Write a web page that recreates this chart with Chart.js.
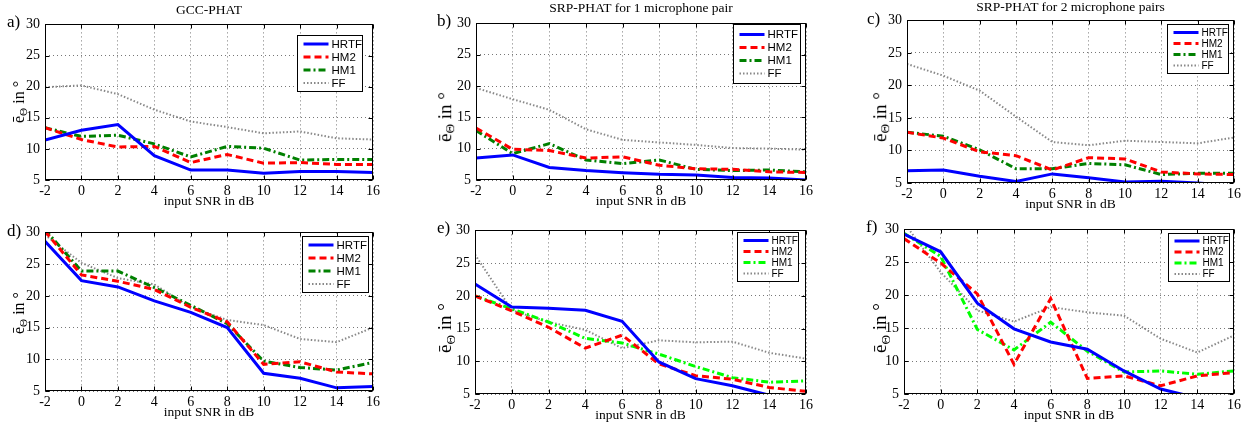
<!DOCTYPE html>
<html lang="en">
<head>
  <meta charset="UTF-8" />
  <title>Localization error vs. input SNR</title>
  <script src="https://cdn.jsdelivr.net/npm/chart.js"></script>
  <style>
    body {
      margin: 0;
      background: #fff;
      width: 1254px;
      height: 427px;
      position: relative;
      overflow: hidden;
      font-family: 'Liberation Serif', 'Times New Roman', serif;
      color: #000;
    }
    canvas { position: absolute; }
    .txt { position: absolute; white-space: nowrap; line-height: 1; font-size: 13.5px; }
    .mid { transform: translate(-50%, -50%); }
    .letter { font-size: 17px; transform: translateY(-50%); }
    .ylab { transform: translate(-50%, -50%) rotate(-90deg); }
    .ylab sub { font-size: 0.7em; vertical-align: -0.25em; }
  </style>
</head>
<body>
  <script>
    // x values (input SNR in dB)
    const snr = [-2, 0, 2, 4, 6, 8, 10, 12, 14, 16];
    const seriesNames = ['HRTF', 'HM2', 'HM1', 'FF'];

    // a) GCC-PHAT
    const hrtfA = [11.4, 13.0, 13.9, 8.9, 6.6, 6.6, 6.1, 6.35, 6.35, 6.2];
    const hm2A  = [13.4, 11.5, 10.3, 10.4, 7.8, 9.1, 7.7, 7.8, 7.5, 7.5];
    const hm1A  = [13.4, 12.0, 12.2, 10.8, 8.7, 10.4, 10.1, 8.2, 8.3, 8.3];
    const ffA   = [19.9, 20.2, 18.8, 16.3, 14.4, 13.5, 12.5, 12.8, 11.7, 11.5];

    // b) SRP-PHAT for 1 microphone pair
    const hrtfB = [8.5, 9.0, 7.0, 6.5, 6.15, 5.9, 5.8, 5.4, 5.3, 5.0];
    const hm2B  = [13.3, 9.9, 9.7, 8.5, 8.7, 7.35, 6.8, 6.7, 6.3, 6.2];
    const hm1B  = [12.9, 9.2, 10.8, 8.2, 7.6, 8.2, 6.7, 6.5, 6.6, 6.3];
    const ffB   = [19.7, 17.9, 16.2, 13.1, 11.4, 11.0, 10.6, 10.1, 10.0, 9.85];

    // c) SRP-PHAT for 2 microphone pairs
    const hrtfC = [6.9, 7.0, 6.05, 5.25, 6.4, 5.8, 5.15, 5.25, 5.0, 4.6];
    const hm2C  = [12.8, 11.9, 9.8, 9.2, 7.0, 8.9, 8.7, 6.7, 6.4, 6.3];
    const hm1C  = [12.8, 12.2, 10.1, 7.2, 7.2, 8.0, 7.8, 6.3, 6.5, 6.5];
    const ffC   = [23.3, 21.5, 19.2, 15.2, 11.3, 10.8, 11.5, 11.3, 11.1, 12.0];

    // d)
    const hrtfD = [28.6, 22.4, 21.4, 19.2, 17.4, 15.0, 7.8, 7.0, 5.5, 5.7];
    const hm2D  = [30.2, 23.3, 22.3, 21.0, 18.2, 15.9, 9.2, 9.6, 8.0, 7.7];
    const hm1D  = [30.4, 23.9, 23.9, 21.3, 18.5, 15.6, 9.7, 8.7, 8.3, 9.5];
    const ffD   = [29.6, 25.2, 22.8, 21.8, 18.2, 16.2, 15.4, 13.2, 12.7, 15.0];

    // e)
    const hrtfE = [21.8, 18.3, 18.1, 17.8, 16.1, 9.9, 7.35, 6.25, 4.8, 3.8];
    const hm2E  = [20.0, 17.7, 15.2, 12.0, 14.0, 9.6, 7.8, 7.25, 6.0, 5.4];
    const hm1E  = [20.0, 18.0, 16.0, 13.5, 12.8, 11.1, 9.2, 7.5, 6.8, 7.0];
    const ffE   = [26.3, 17.8, 16.0, 14.8, 12.0, 13.2, 12.9, 13.0, 11.3, 10.4];

    // f)
    const hrtfF = [29.3, 26.6, 18.8, 14.9, 12.9, 11.8, 8.5, 5.75, 4.4, 3.4];
    const hm2F  = [28.6, 24.9, 20.2, 9.5, 19.5, 7.35, 7.75, 6.25, 7.75, 8.25];
    const hm1F  = [29.4, 25.9, 14.8, 11.7, 15.9, 11.5, 8.35, 8.5, 8.0, 8.5];
    const ffF   = [31.0, 23.5, 17.7, 16.0, 18.2, 17.4, 16.9, 13.4, 11.3, 13.9];

    const yTicks = [5, 10, 15, 20, 25, 30];

    // layout of each panel: plot box [left, top, right, bottom] in page pixels
    const panels = [
      { tag: 'a)', title: 'GCC-PHAT', data: [hrtfA, hm2A, hm1A, ffA], plot: [45, 21, 373, 180],
        green: '#008000', titleY: 10, letter: [7, 21], ylab: [20, 102, 16],
        leg: { right: 11, top: 10.7, w: 65, h: 56, font: 11.5, sp: 13 } },
      { tag: 'b)', title: 'SRP-PHAT for 1 microphone pair', data: [hrtfB, hm2B, hm1B, ffB], plot: [476, 20, 806, 180],
        green: '#008000', titleY: 8, letter: [437, 20], ylab: [446, 117, 19],
        leg: { right: 6, top: 1, w: 67, h: 59, font: 11.5, sp: 13 } },
      { tag: 'c)', title: 'SRP-PHAT for 2 microphone pairs', data: [hrtfC, hm2C, hm1C, ffC], plot: [907, 17, 1234, 183],
        green: '#008000', titleY: 7, letter: [867, 18], ylab: [881, 117, 19],
        leg: { right: 6, top: 4, w: 61, h: 49, font: 10, sp: 11 } },
      { tag: 'd)', title: '', data: [hrtfD, hm2D, hm1D, ffD], plot: [45, 229, 373, 391],
        green: '#008000', titleY: 0, letter: [7, 230], ylab: [20, 313, 16],
        leg: { right: 5, top: 4, w: 66, h: 56, font: 11.5, sp: 13 } },
      { tag: 'e)', title: '', data: [hrtfE, hm2E, hm1E, ffE], plot: [475, 227, 806, 394],
        green: '#00ff00', titleY: 0, letter: [437, 227], ylab: [446, 328, 19],
        leg: { right: 8, top: 2, w: 61, h: 49, font: 10, sp: 11 } },
      { tag: 'f)', title: '', data: [hrtfF, hm2F, hm1F, ffF], plot: [904, 226, 1234, 394],
        green: '#00ff00', titleY: 0, letter: [866, 226], ylab: [881, 328, 19],
        leg: { right: 5, top: 4, w: 61, h: 48, font: 10, sp: 11 } }
    ];

    const PAD_L = 40, PAD_T = 10, PAD_R = 12, PAD_B = 22;

    // box, inward ticks and legend like MATLAB
    const framePlugin = {
      id: 'frame',
      afterDraw(chart, args, opts) {
        const { ctx, chartArea: a, scales: { x, y } } = chart;
        const L = Math.round(a.left) + 0.5, T = Math.round(a.top) + 0.5;
        const R = Math.round(a.right) - 0.5, B = Math.round(a.bottom) - 0.5;
        ctx.save();
        ctx.strokeStyle = '#000';
        ctx.lineWidth = 1;
        ctx.setLineDash([]);
        ctx.strokeRect(L, T, R - L, B - T);
        ctx.beginPath();
        snr.forEach(v => {
          const px = Math.round(x.getPixelForValue(v)) + 0.5;
          ctx.moveTo(px, B); ctx.lineTo(px, B - 4);
          ctx.moveTo(px, T); ctx.lineTo(px, T + 4);
        });
        yTicks.forEach(v => {
          const py = Math.round(y.getPixelForValue(v)) + 0.5;
          ctx.moveTo(L, py); ctx.lineTo(L + 4, py);
          ctx.moveTo(R, py); ctx.lineTo(R - 4, py);
        });
        ctx.stroke();

        const lg = opts.leg;
        const lx = Math.round(a.right - lg.right - lg.w) + 0.5;
        const ly = Math.round(a.top + lg.top) + 0.5;
        ctx.fillStyle = '#fff';
        ctx.fillRect(lx, ly, lg.w, lg.h);
        ctx.strokeRect(lx, ly, lg.w, lg.h);
        ctx.font = lg.font + 'px "Liberation Sans", Arial, sans-serif';
        ctx.textBaseline = 'middle';
        const first = lg.h / 2 - 1.5 * lg.sp;
        chart.data.datasets.forEach((ds, i) => {
          const ry = ly + first + i * lg.sp;
          ctx.strokeStyle = ds.borderColor;
          ctx.lineWidth = ds.borderWidth;
          ctx.setLineDash(ds.borderDash || []);
          ctx.beginPath();
          ctx.moveTo(lx + 6, ry);
          ctx.lineTo(lx + 31, ry);
          ctx.stroke();
          ctx.fillStyle = '#000';
          ctx.fillText(ds.label, lx + 34, ry + 0.5);
        });
        ctx.restore();
      }
    };

    function addText(cls, html, x, y, size) {
      const d = document.createElement('div');
      d.className = 'txt ' + cls;
      d.innerHTML = html;
      d.style.left = x + 'px';
      d.style.top = y + 'px';
      if (size) d.style.fontSize = size + 'px';
      document.body.appendChild(d);
    }

    panels.forEach(p => {
      const [L, T, R, B] = p.plot;
      const w = R - L + PAD_L + PAD_R, h = B - T + PAD_T + PAD_B;
      const cv = document.createElement('canvas');
      cv.width = w; cv.height = h;
      cv.style.left = (L - PAD_L) + 'px';
      cv.style.top = (T - PAD_T) + 'px';
      cv.style.width = w + 'px';
      cv.style.height = h + 'px';
      document.body.appendChild(cv);

      const styles = [
        { color: '#0000ff', width: 3, dash: [] },
        { color: '#ff0000', width: 3, dash: [7, 4] },
        { color: p.green, width: 3, dash: [7, 3, 2, 3] },
        { color: '#888888', width: 2, dash: [1.5, 2] }
      ];

      new Chart(cv, {
        type: 'line',
        data: {
          datasets: p.data.map((vals, i) => ({
            label: seriesNames[i],
            data: snr.map((s, k) => ({ x: s, y: vals[k] })),
            borderColor: styles[i].color,
            borderWidth: styles[i].width,
            borderDash: styles[i].dash,
            pointRadius: 0,
            tension: 0,
            fill: false
          }))
        },
        options: {
          responsive: false,
          animation: false,
          devicePixelRatio: 1,
          layout: { padding: { left: 0, top: PAD_T, right: PAD_R, bottom: 0 } },
          plugins: { legend: { display: false }, tooltip: { enabled: false }, frame: { leg: p.leg } },
          scales: {
            x: {
              type: 'linear', min: -2, max: 16,
              afterFit: s => { s.height = PAD_B; },
              afterBuildTicks: s => { s.ticks = snr.map(v => ({ value: v })); },
              grid: { color: '#777', lineWidth: 1, drawTicks: false },
              border: { display: false, dash: [1, 3] },
              ticks: { color: '#000', padding: 3, maxRotation: 0, font: { family: 'Liberation Serif', size: 14 } }
            },
            y: {
              min: 5, max: 30,
              afterFit: s => { s.width = PAD_L; },
              afterBuildTicks: s => { s.ticks = yTicks.map(v => ({ value: v })); },
              grid: { color: '#777', lineWidth: 1, drawTicks: false },
              border: { display: false, dash: [1, 3] },
              ticks: { color: '#000', padding: 5, font: { family: 'Liberation Serif', size: 14 } }
            }
          }
        },
        plugins: [framePlugin]
      });

      const cx = (L + R) / 2;
      if (p.title) addText('mid', p.title, cx, p.titleY);
      addText('mid', 'input SNR in dB', cx, B + 21);
      addText('letter', p.tag, p.letter[0], p.letter[1]);
      addText('ylab', 'ē<sub>Θ</sub> in °', p.ylab[0], p.ylab[1], p.ylab[2]);
    });
  </script>
</body>
</html>
